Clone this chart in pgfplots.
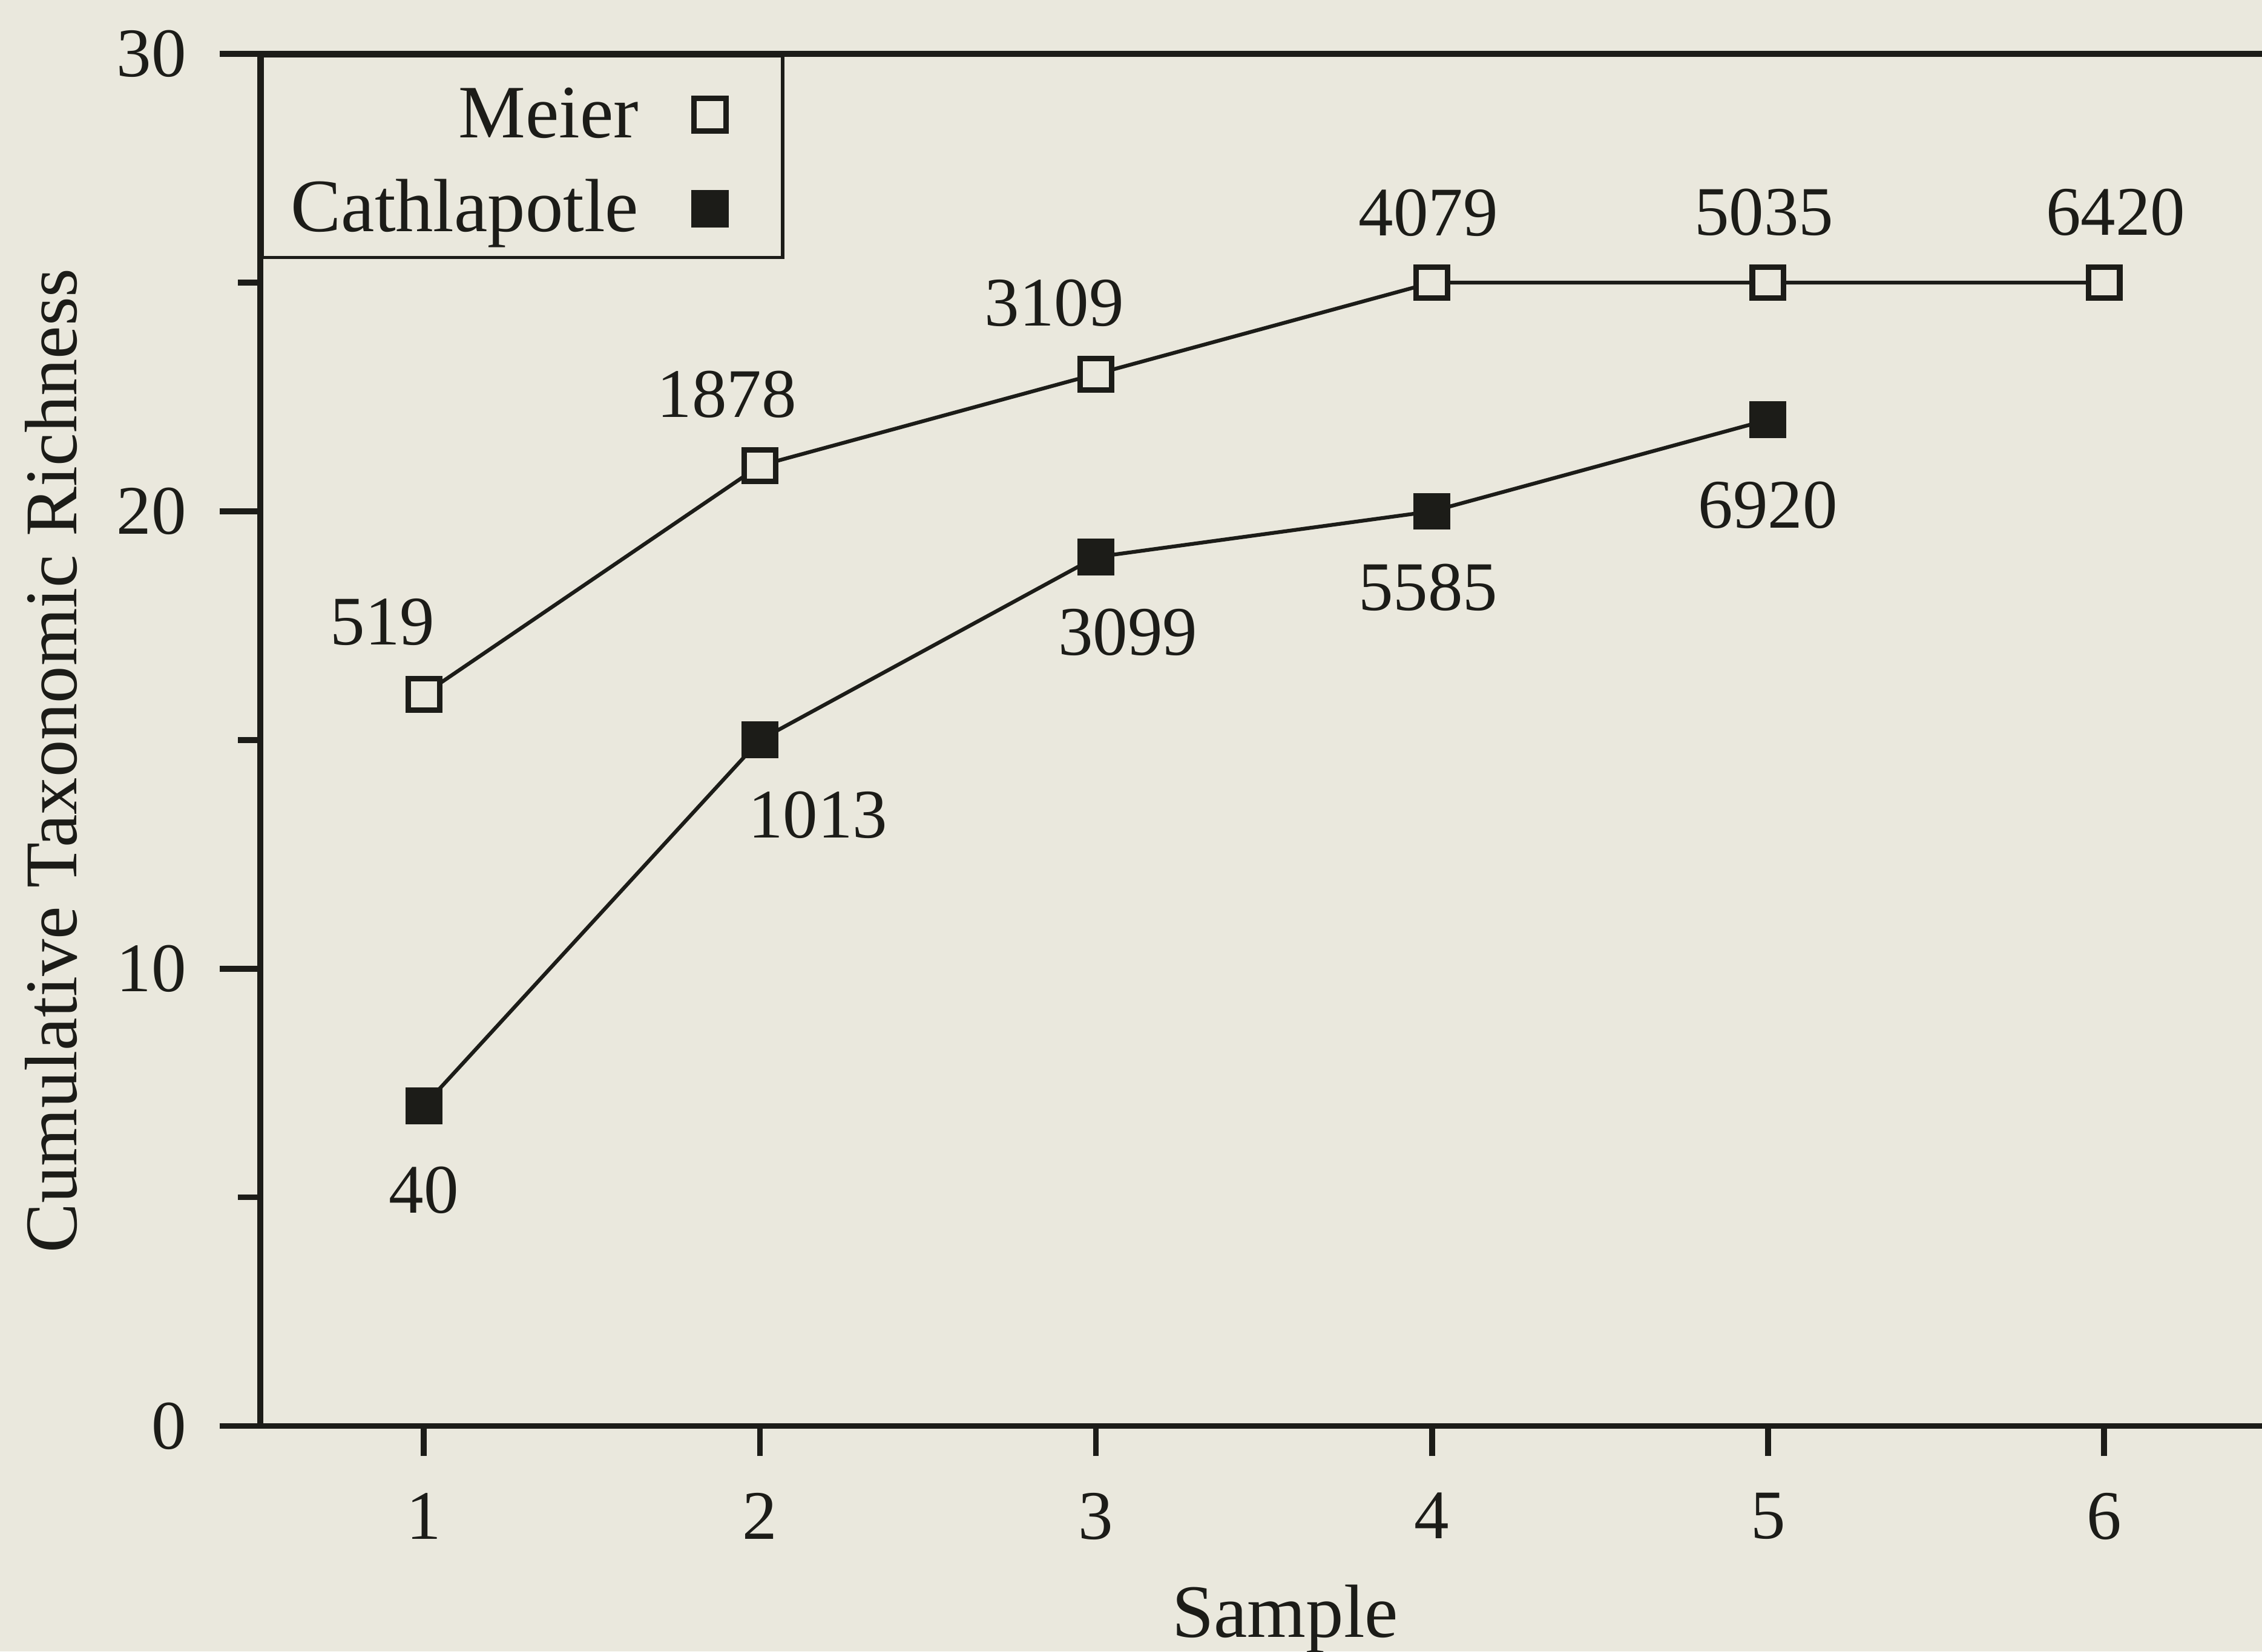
\documentclass[border=0pt]{standalone}
\usepackage{pgfplots}
\pgfplotsset{compat=1.18}
\usepackage{pgfplotstable}
\usepackage{fontspec}
\setmainfont{Liberation Serif}
\definecolor{bgc}{RGB}{234,232,221}
\definecolor{ink}{RGB}{28,28,24}
\pagecolor{bgc}

\pgfplotstableread{
x y lab dx dy
1 16 519 -7.1 12.4
2 21 1878 -5.7 12.3
3 23 3109 -7.2 12.2
4 25 4079 -0.6 12.0
5 25 5035 -0.7 12.1
6 25 6420 2.0 12.1
}\meier
\pgfplotstableread{
x y lab dx dy
1 7 40 0 -14.5
2 15 1013 10.0 -12.9
3 19 3099 5.5 -13.0
4 20 5585 -0.7 -13.1
5 22 6920 0 -14.7
}\cath

\begin{document}
\fontsize{13}{15.6}\selectfont
\begin{tikzpicture}
\begin{axis}[name=ax, scale only axis, width=345.1pt, height=236.6pt,
  xmin=0.513, xmax=6.47, ymin=0, ymax=30,
  axis y line*=left,
  xtick={1,...,6}, ytick={0,10,20,30}, minor ytick={5,15,25},
  xtick pos=bottom, ytick pos=left, tick align=outside,
  major tick length=7.0pt, minor tick length=3.8pt,
  xtick style={/pgfplots/major tick length=5.2pt},
  tick style={line width=1pt, ink},
  axis line style={line width=1pt, ink},
  /pgf/number format/assume math mode=true,
  tick label style={text=ink, font=\fontsize{12}{14}\selectfont},
  yticklabel style={xshift=-1.2pt},
  xlabel={Sample}, ylabel={Cumulative Taxonomic Richness},
  xlabel style={at={(axis description cs:0.512,0)}, anchor=base, yshift=-36.4pt, text=ink},
  ylabel style={at={(axis description cs:-0.1044,0.485)}, anchor=center, text=ink,
    font=\fontsize{12.8}{15.4}\selectfont},
  legend style={at={(0,1)}, anchor=north west, draw=ink, line width=0.6pt, fill=none,
    text=ink, inner xsep=5pt, inner ysep=2pt, row sep=1.6pt,
    nodes={inner sep=0pt, text height=12.1pt, text depth=2.5pt}},
  legend cell align=right, legend plot pos=right,
  clip=false,
]
\addplot[ink, line width=0.65pt, mark=square*, mark size=2.7pt,
  mark options={fill=bgc, line width=0.95pt, solid},
  point meta=explicit symbolic, nodes near coords,
  visualization depends on={\thisrow{dx}\as\dx},
  visualization depends on={\thisrow{dy}\as\dy},
  nodes near coords style={anchor=center, xshift=\dx pt, yshift=\dy pt, text=ink,
    font=\fontsize{12}{14}\selectfont},
  legend image code/.code={\path (0,0) (19.2pt,0);
    \draw[ink, mark=square*, mark size=2.8pt, mark options={fill=bgc, line width=0.95pt}]
      plot coordinates {(12pt,-0.9pt)};}
] table[x=x, y=y, meta=lab] {\meier};
\addlegendentry{Meier}
\addplot[ink, line width=0.65pt, mark=square*, mark size=2.7pt,
  mark options={fill=ink, line width=0.95pt, solid},
  point meta=explicit symbolic, nodes near coords,
  visualization depends on={\thisrow{dx}\as\dx},
  visualization depends on={\thisrow{dy}\as\dy},
  nodes near coords style={anchor=center, xshift=\dx pt, yshift=\dy pt, text=ink,
    font=\fontsize{12}{14}\selectfont},
  legend image code/.code={\path (0,0) (19.2pt,0);
    \draw[ink, mark=square*, mark size=2.8pt, mark options={fill=ink, line width=0.95pt}]
      plot coordinates {(12pt,-0.9pt)};}
] table[x=x, y=y, meta=lab] {\cath};
\addlegendentry{Cathlapotle}
\end{axis}
\pgfresetboundingbox
\path[use as bounding box] ([shift={(-44.85pt,-38.9pt)}]ax.south west) rectangle ([shift={(0pt,9.3pt)}]ax.north east);
\end{tikzpicture}
\end{document}
